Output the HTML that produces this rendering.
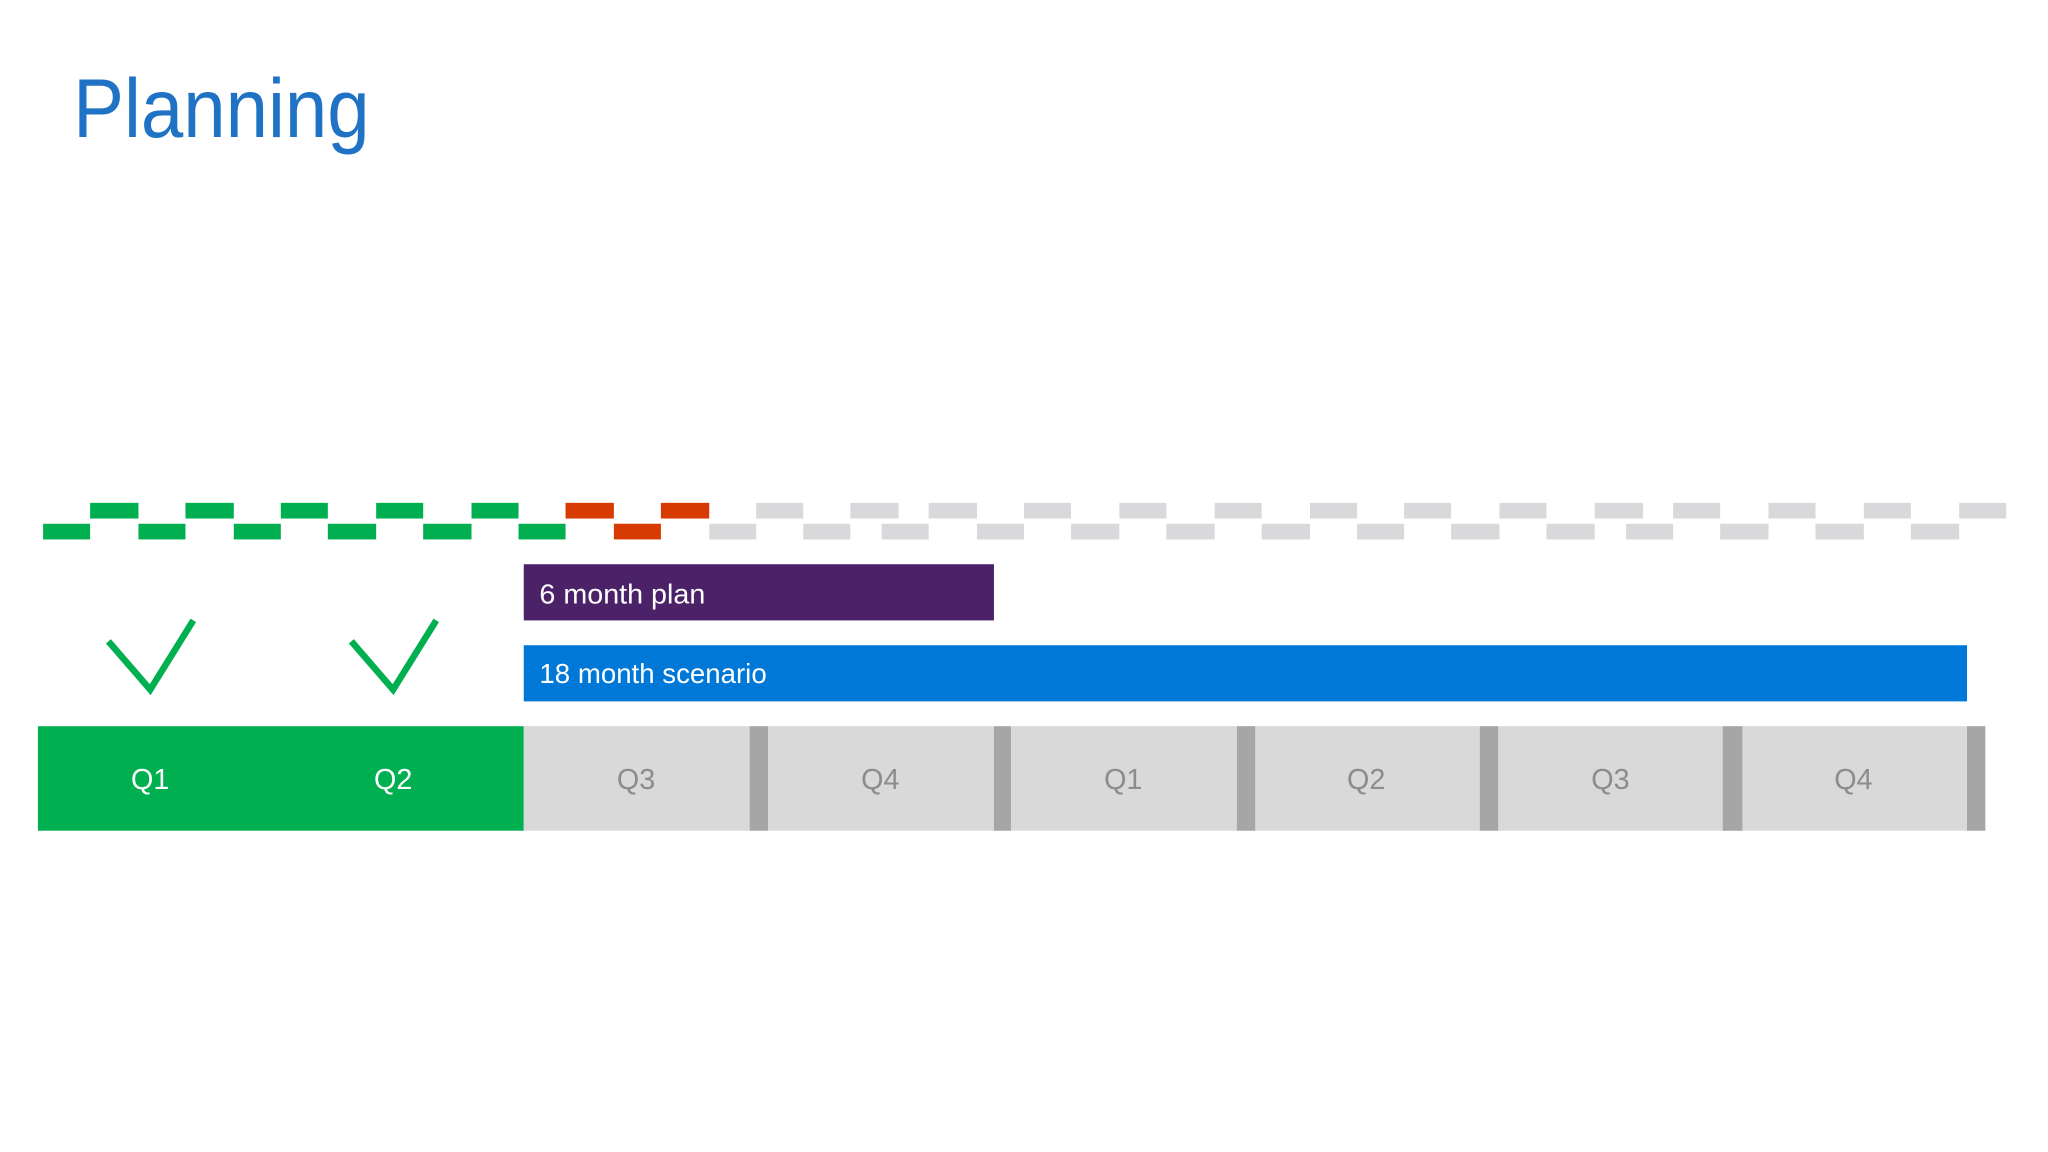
<!DOCTYPE html>
<html><head><meta charset="utf-8"><style>
html,body{margin:0;padding:0;background:#fff;width:2048px;height:1152px;overflow:hidden}
svg{display:block}
text{font-family:"Liberation Sans",sans-serif}
</style></head><body>
<svg width="2048" height="1152" viewBox="0 0 1568 882" xmlns="http://www.w3.org/2000/svg">
<rect width="1568" height="882" fill="#fff"/>
<text x="56" y="105" font-size="64" fill="#2072c5" textLength="227" lengthAdjust="spacingAndGlyphs">Planning</text>
<g>
<g fill="#00b050">
<rect x="33" y="401" width="36" height="12"/><rect x="106" y="401" width="36" height="12"/><rect x="179" y="401" width="36" height="12"/><rect x="251" y="401" width="37" height="12"/><rect x="324" y="401" width="37" height="12"/><rect x="397" y="401" width="36" height="12"/>
<rect x="69" y="385" width="37" height="12"/><rect x="142" y="385" width="37" height="12"/><rect x="215" y="385" width="36" height="12"/><rect x="288" y="385" width="36" height="12"/><rect x="361" y="385" width="36" height="12"/>
</g>
<g fill="#d83b01">
<rect x="433" y="385" width="37" height="12"/><rect x="506" y="385" width="37" height="12"/><rect x="470" y="401" width="36" height="12"/>
</g>
<g fill="#d9d9db">
<rect x="579" y="385" width="36" height="12"/><rect x="651" y="385" width="37" height="12"/><rect x="711" y="385" width="37" height="12"/><rect x="784" y="385" width="36" height="12"/><rect x="857" y="385" width="36" height="12"/><rect x="930" y="385" width="36" height="12"/><rect x="1003" y="385" width="36" height="12"/><rect x="1075" y="385" width="36" height="12"/><rect x="1148" y="385" width="36" height="12"/><rect x="1221" y="385" width="37" height="12"/><rect x="1281" y="385" width="36" height="12"/><rect x="1354" y="385" width="36" height="12"/><rect x="1427" y="385" width="36" height="12"/><rect x="1500" y="385" width="36" height="12"/>
<rect x="543" y="401" width="36" height="12"/><rect x="615" y="401" width="36" height="12"/><rect x="675" y="401" width="36" height="12"/><rect x="748" y="401" width="36" height="12"/><rect x="820" y="401" width="37" height="12"/><rect x="893" y="401" width="37" height="12"/><rect x="966" y="401" width="37" height="12"/><rect x="1039" y="401" width="36" height="12"/><rect x="1111" y="401" width="37" height="12"/><rect x="1184" y="401" width="37" height="12"/><rect x="1245" y="401" width="36" height="12"/><rect x="1317" y="401" width="37" height="12"/><rect x="1390" y="401" width="37" height="12"/><rect x="1463" y="401" width="37" height="12"/>
</g>
</g>
<rect x="401" y="432" width="360" height="43" fill="#4b2268"/>
<text x="413" y="462" font-size="21" fill="#fff" textLength="127" lengthAdjust="spacingAndGlyphs">6 month plan</text>
<rect x="401" y="494" width="1105" height="43" fill="#0078d7"/>
<text x="413" y="523" font-size="21" fill="#fff" textLength="174" lengthAdjust="spacingAndGlyphs">18 month scenario</text>
<g fill="none" stroke="#00b050" stroke-width="5">
<polyline points="83,491 115,528 148,475"/>
<polyline points="269,491 301,528 334,475"/>
</g>
<rect x="29" y="556" width="372" height="80" fill="#00b050"/>
<rect x="401" y="556" width="1119" height="80" fill="#d9d9d9"/>
<g fill="#a6a6a6">
<rect x="574" y="556" width="14" height="80"/><rect x="761" y="556" width="13" height="80"/><rect x="947" y="556" width="14" height="80"/><rect x="1133" y="556" width="14" height="80"/><rect x="1319" y="556" width="15" height="80"/><rect x="1506" y="556" width="14" height="80"/>
</g>
<g font-size="22" text-anchor="middle">
<text x="115" y="604" fill="#fff">Q1</text><text x="301" y="604" fill="#fff">Q2</text>
<g fill="#8c8c8c">
<text x="487" y="604">Q3</text><text x="674" y="604">Q4</text><text x="860" y="604">Q1</text><text x="1046" y="604">Q2</text><text x="1233" y="604">Q3</text><text x="1419" y="604">Q4</text>
</g>
</g>
</svg>
</body></html>
